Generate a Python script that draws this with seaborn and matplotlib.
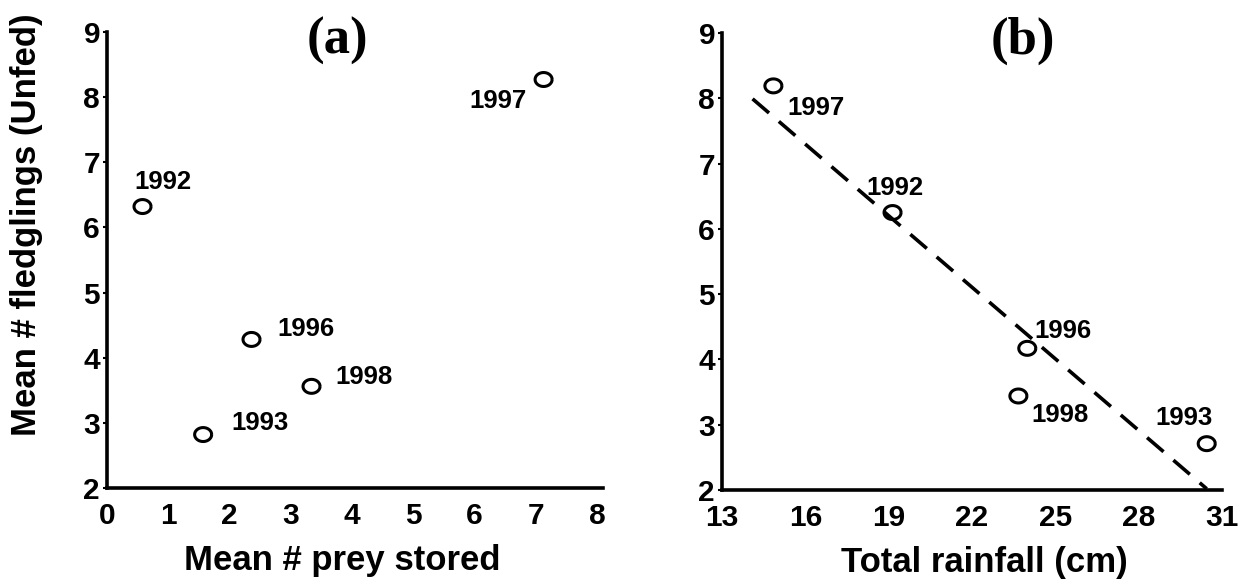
import numpy as np
import pandas as pd
import matplotlib
matplotlib.use("Agg")
import matplotlib.pyplot as plt
import seaborn as sns

# --- data -------------------------------------------------------------
years_a = ["1992", "1993", "1996", "1998", "1997"]
prey_stored = [0.58, 1.57, 2.36, 3.34, 7.13]
fledglings_a = [6.32, 2.82, 4.28, 3.56, 8.27]

years_b = ["1997", "1992", "1996", "1998", "1993"]
rainfall_cm = [14.85, 19.14, 23.99, 23.67, 30.45]
fledglings_b = [8.19, 6.25, 4.17, 3.44, 2.71]

x_ticks_a = [0, 1, 2, 3, 4, 5, 6, 7, 8]
x_ticks_b = [13, 16, 19, 22, 25, 28, 31]
y_ticks = [2, 3, 4, 5, 6, 7, 8, 9]

# label offsets (pixels) relative to each point
offsets_a = [(20, 25), (57, 12), (54, 10), (52, 9), (-46, -21)]
offsets_b = [(43, -22), (2, 25), (36, 17), (42, -19), (-23, 26)]

# span over which the least-squares line is drawn
fit_span = (14.1, 30.45)

# --- style ------------------------------------------------------------
sns.set_theme(style="ticks")
plt.rcParams["font.family"] = ["Liberation Sans", "DejaVu Sans"]
plt.rcParams["font.weight"] = "bold"
plt.rcParams["text.color"] = "black"
plt.rcParams["axes.labelcolor"] = "black"
plt.rcParams["xtick.color"] = "black"
plt.rcParams["ytick.color"] = "black"
plt.rcParams["axes.edgecolor"] = "black"

SANS = "Liberation Sans"
SERIF = "Liberation Serif"

# slightly flattened open-circle marker
t = np.linspace(0, 2 * np.pi, 60)
ellipse = np.column_stack([1.22 * np.cos(t), np.sin(t)])

df_a = pd.DataFrame({"year": years_a, "x": prey_stored, "y": fledglings_a})
df_b = pd.DataFrame({"year": years_b, "x": rainfall_cm, "y": fledglings_b})

fig = plt.figure(figsize=(12.5, 5.83), dpi=100)
ax_a = fig.add_axes([0.0856, 0.1630, 0.3968, 0.7822])
ax_b = fig.add_axes([0.5776, 0.1595, 0.4000, 0.7839])


def style_axes(ax, xlim, xticks):
    ax.set_xlim(*xlim)
    ax.set_ylim(2, 9)
    ax.set_xticks(xticks)
    ax.set_yticks(y_ticks)
    ax.set_xticklabels([str(v) for v in xticks], fontsize=21.5,
                       fontweight="bold", family=SANS, color="black")
    ax.set_yticklabels([str(v) for v in y_ticks], fontsize=21.5,
                       fontweight="bold", family=SANS, color="black")
    ax.tick_params(axis="x", length=0, pad=10, colors="black")
    ax.tick_params(axis="y", length=3, width=1.5, direction="out", pad=2,
                   colors="black")
    for side in ("top", "right"):
        ax.spines[side].set_visible(False)
    for side in ("left", "bottom"):
        ax.spines[side].set_linewidth(2.6)
        ax.spines[side].set_color("black")
    ax.set_facecolor("white")


def draw_points(ax, df, offsets):
    sns.scatterplot(data=df, x="x", y="y", ax=ax, marker=ellipse, s=150,
                    facecolor="none", edgecolor="black", linewidth=2.2,
                    legend=False, zorder=3)
    for (yr, x, y), (dx, dy) in zip(df[["year", "x", "y"]].values, offsets):
        ax.annotate(yr, (x, y), xytext=(dx, dy), textcoords="offset pixels",
                    ha="center", va="center", fontsize=18.5,
                    fontweight="bold", family=SANS, color="black")


def set_xlabel(ax, text, xfrac):
    ax.set_xlabel(text, fontsize=25, fontweight="bold", family=SANS,
                  color="black")
    ax.xaxis.label.set_va("center")
    ax.xaxis.set_label_coords(xfrac, -0.158)


# panel (a)
draw_points(ax_a, df_a, offsets_a)
style_axes(ax_a, (0, 8.1), x_ticks_a)
set_xlabel(ax_a, "Mean # prey stored", 0.474)
ax_a.set_ylabel("Mean # fledglings (Unfed)", fontsize=25, fontweight="bold",
                family=SANS, color="black")
ax_a.yaxis.label.set_va("center")
ax_a.yaxis.set_label_coords(-0.162, 0.577)
ax_a.text(0.464, 0.98, "(a)", transform=ax_a.transAxes, ha="center",
          va="center", fontsize=38, fontweight="bold", family=SERIF,
          color="black")

# panel (b): points with least-squares line
slope, intercept = np.polyfit(rainfall_cm, fledglings_b, 1)
fit_x = np.array(fit_span)
fit_df = pd.DataFrame({"x": fit_x, "y": intercept + slope * fit_x})
sns.lineplot(data=fit_df, x="x", y="y", ax=ax_b, color="black",
             linewidth=2.6, dashes=False, zorder=2)
ax_b.lines[-1].set_dashes((6.0, 3.6))
draw_points(ax_b, df_b, offsets_b)
style_axes(ax_b, (13, 31), x_ticks_b)
set_xlabel(ax_b, "Total rainfall (cm)", 0.525)
ax_b.set_ylabel("")
ax_b.text(0.601, 0.982, "(b)", transform=ax_b.transAxes, ha="center",
          va="center", fontsize=38, fontweight="bold", family=SERIF,
          color="black")

fig.savefig("out.png", dpi=100, facecolor="white")
